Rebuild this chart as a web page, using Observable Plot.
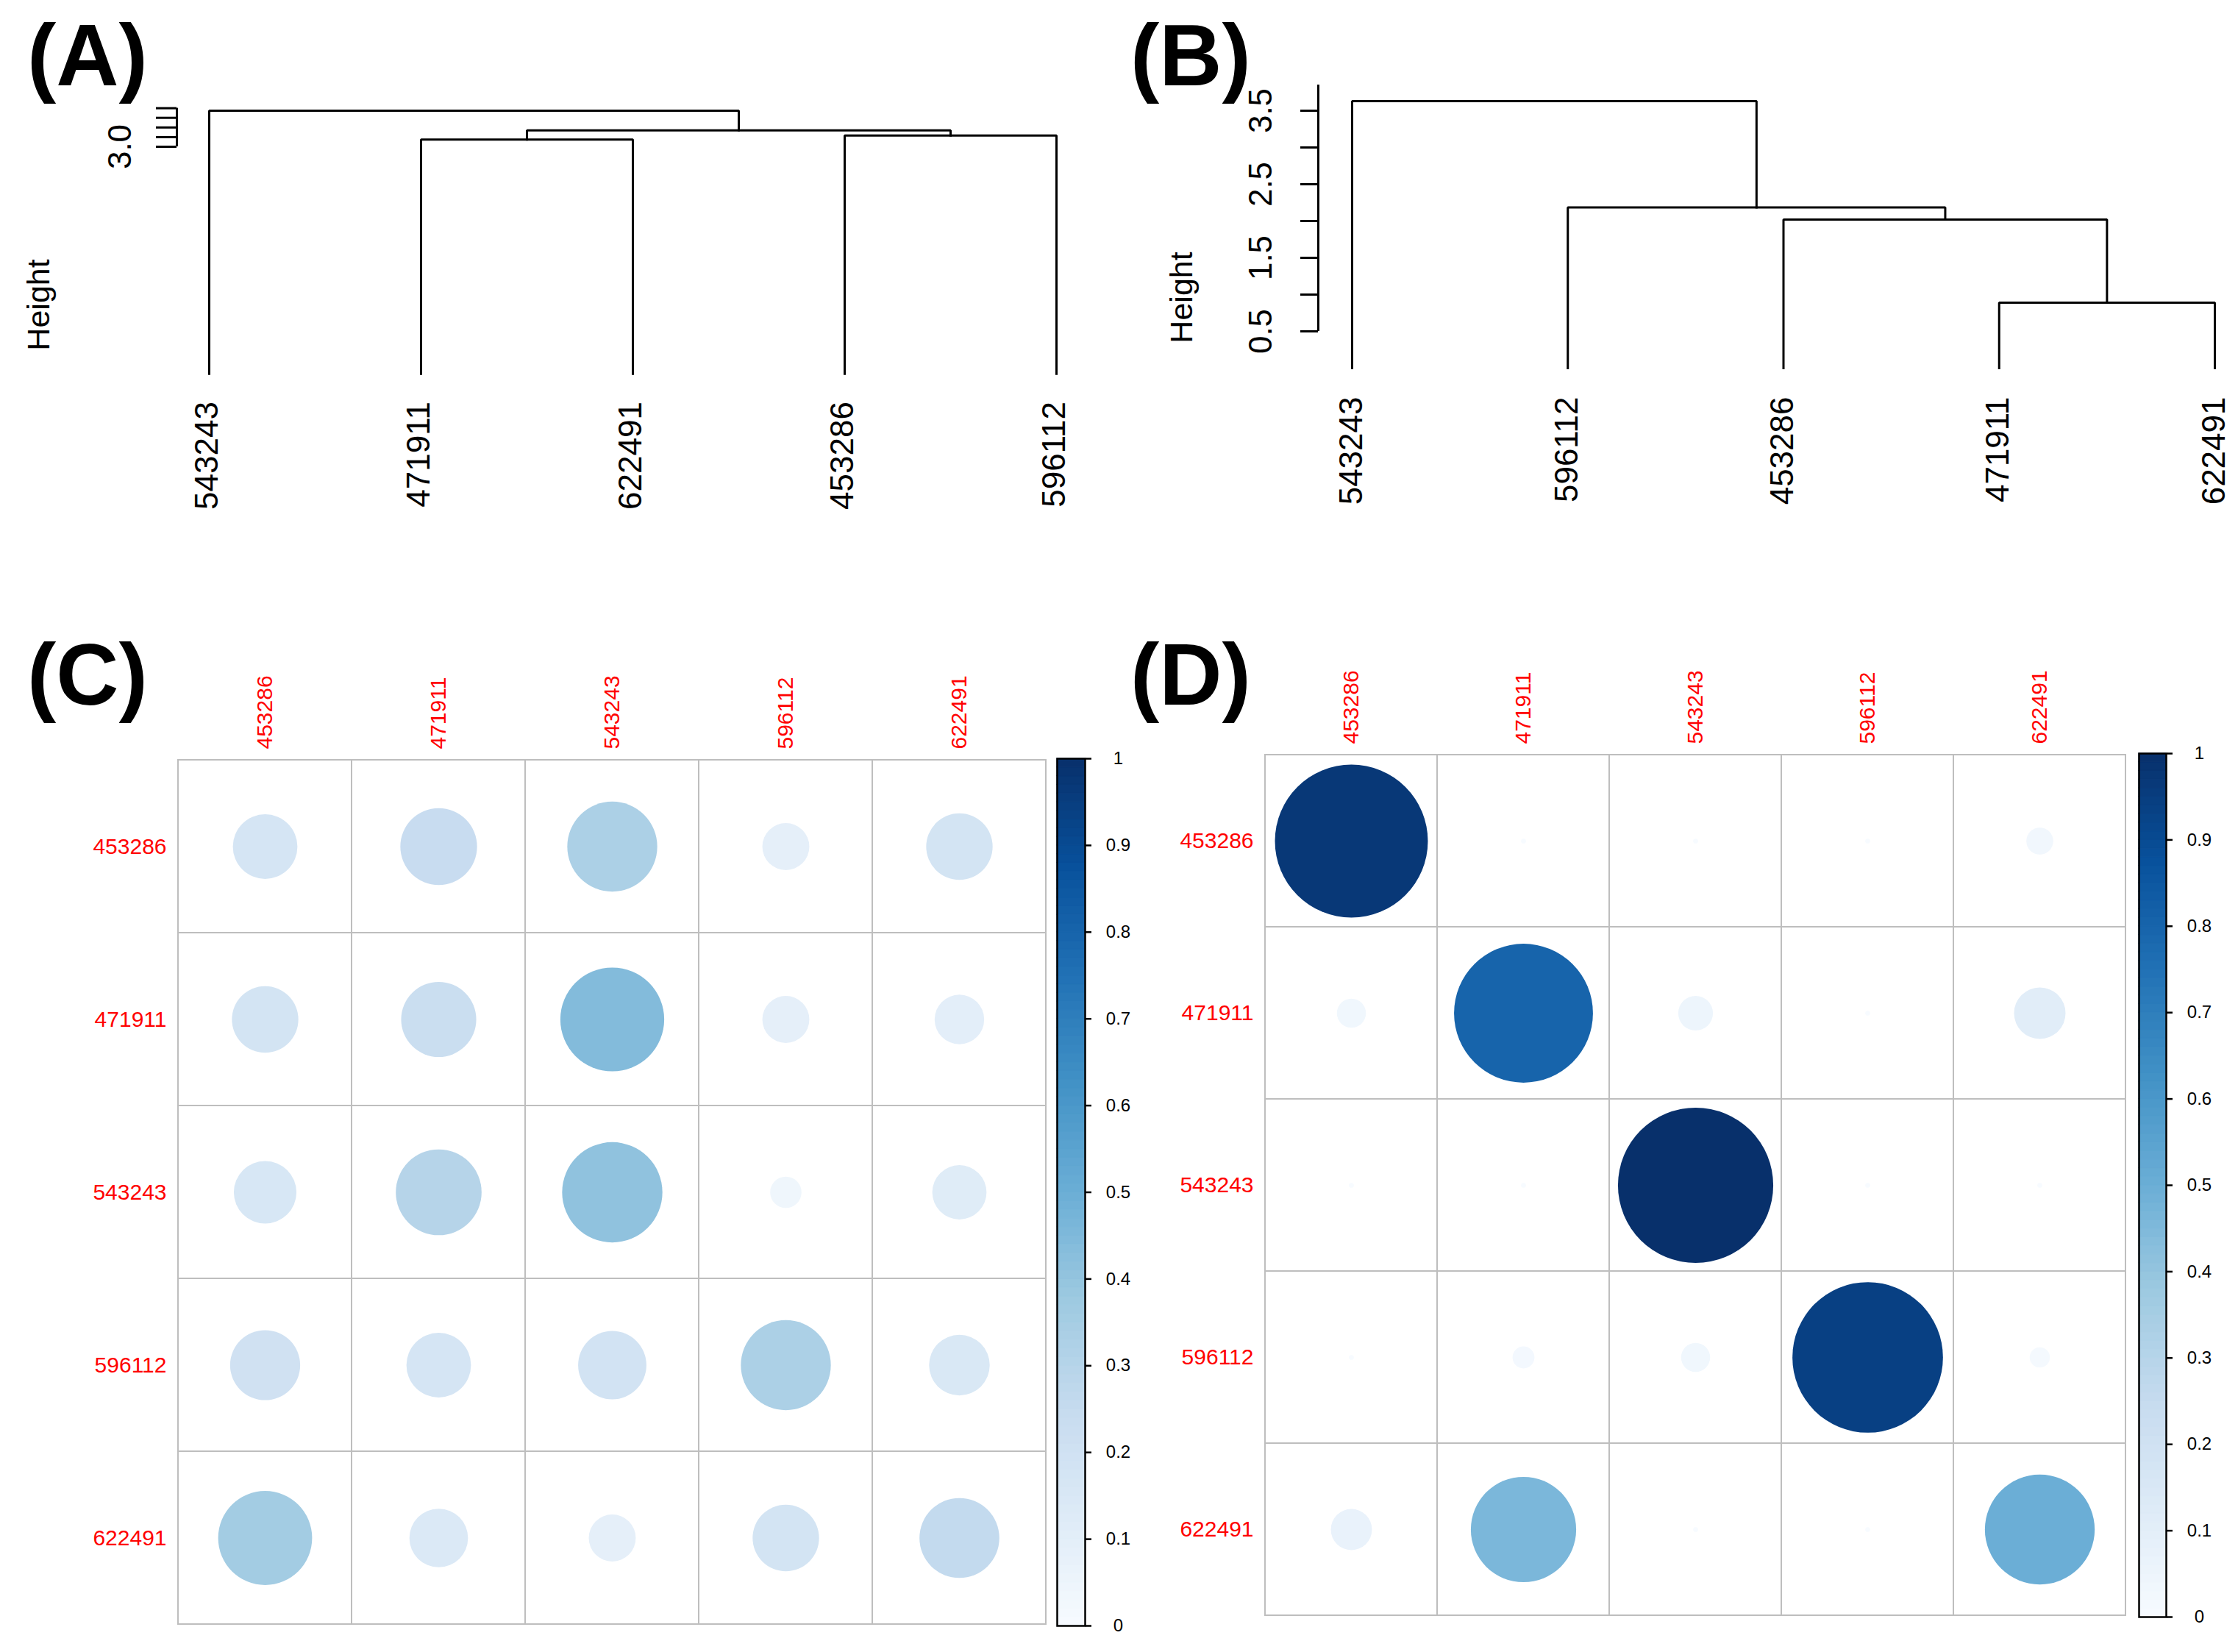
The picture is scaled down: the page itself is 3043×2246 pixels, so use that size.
<!DOCTYPE html>
<html><head><meta charset="utf-8">
<script src="https://cdn.jsdelivr.net/npm/d3@7"></script>
<script src="https://cdn.jsdelivr.net/npm/@observablehq/plot@0.6"></script>
<style>
html,body{margin:0;padding:0;background:#fff;}
#root{position:relative;width:3043px;height:2246px;background:#fff;overflow:hidden;font-family:"Liberation Sans",Arial,Helvetica,sans-serif;}
.panel{position:absolute;}
.tag{position:absolute;font-weight:bold;font-size:118px;line-height:118px;color:#000;font-family:"Liberation Sans",Arial,sans-serif;}
</style></head><body><div id="root"></div>
<script>
// ---------- data ----------
const ids = ["453286","471911","543243","596112","622491"];

// (A) dendrogram
const leavesA = ["543243","471911","622491","453286","596112"];
const baseA = 0.644;
const mergesA = [
  ["471911","622491",3.075],
  ["453286","596112",3.117],
  ["m0","m1",3.170],
  ["543243","m2",3.374]
];
const ticksA = [3.0,3.1,3.2,3.3,3.4];
const tickLabelsA = [3.0];

// (B) dendrogram
const leavesB = ["543243","596112","453286","471911","622491"];
const baseB = 0;
const mergesB = [
  ["471911","622491",0.89],
  ["453286","m0",2.02],
  ["596112","m1",2.185],
  ["543243","m2",3.63]
];
const ticksB = [0.5,1,1.5,2,2.5,3,3.5];
const tickLabelsB = [0.5,1.5,2.5,3.5];
const axisTopB = 3.85;

// (C) matrix (rows x cols in ids order)
const valuesC = [
  [0.17,0.24,0.33,0.09,0.18],
  [0.18,0.23,0.44,0.09,0.10],
  [0.16,0.30,0.41,0.04,0.12],
  [0.20,0.17,0.19,0.33,0.15],
  [0.36,0.14,0.09,0.18,0.26]
];
// (D) matrix
const valuesD = [
  [0.97,0.001,0.001,0.001,0.03],
  [0.035,0.80,0.05,0.001,0.11],
  [0.001,0.001,1.00,0.001,0.001],
  [0.001,0.02,0.035,0.94,0.017],
  [0.07,0.46,0.001,0.001,0.50]
];
const legendTicks = [0,0.1,0.2,0.3,0.4,0.5,0.6,0.7,0.8,0.9,1];
const blues = ["#F7FBFF","#DEEBF7","#C6DBEF","#9ECAE1","#6BAED6","#4292C6","#2171B5","#08519C","#08306B"];

// ---------- helpers ----------
const FONT = "Liberation Sans, Arial, Helvetica, sans-serif";
const root = document.getElementById("root");
function place(node, left, top) {
  node.classList.add("panel");
  node.style.left = left + "px";
  node.style.top = top + "px";
  root.appendChild(node);
}
function tag(txt, left, top) {
  const d = document.createElement("div");
  d.className = "tag";
  d.textContent = txt;
  d.style.left = left + "px";
  d.style.top = top + "px";
  root.appendChild(d);
}
function dendroPoints(leaves, merges, base) {
  const nodes = {};
  leaves.forEach((n, i) => nodes[n] = {x: i, h: base});
  const pts = [];
  merges.forEach(([a, b, h], k) => {
    const A = nodes[a], B = nodes[b];
    pts.push({k, x: A.x, y: A.h}, {k, x: A.x, y: h}, {k, x: B.x, y: h}, {k, x: B.x, y: B.h});
    nodes["m" + k] = {x: (A.x + B.x) / 2, h};
  });
  return pts;
}
const colorScale = {type: "linear", domain: [0, 1], interpolate: d3.piecewise(d3.interpolateRgb, blues)};

function dendro({leaves, merges, base, ticks, tickLabels, spineTop, width, height, mL, mR, mT, mB, axisDx, tickSize, labelDx, heightDx, heightDy, leafDy, leafDx}) {
  return Plot.plot({
    width, height, marginLeft: mL, marginRight: mR, marginTop: mT, marginBottom: mB,
    x: {domain: [0, leaves.length - 1], axis: null},
    y: {domain: [0, 4], axis: null},
    style: {fontFamily: FONT, background: "transparent", overflow: "visible"},
    marks: [
      Plot.line(dendroPoints(leaves, merges, base), {x: "x", y: "y", z: "k", stroke: "black", strokeWidth: 3, strokeLinejoin: "miter", strokeLinecap: "square"}),
      Plot.ruleX([0], {y1: ticks[0], y2: spineTop, dx: axisDx, stroke: "black", strokeWidth: 3}),
      Plot.axisY(ticks, {anchor: "left", tickSize, dx: axisDx, tickFormat: () => "", label: null, stroke: "black", strokeWidth: 3}),
      Plot.text(tickLabels, {y: d => d, text: d => d.toFixed(1), frameAnchor: "left", textAnchor: "middle", lineAnchor: "middle", rotate: -90, dx: labelDx, fontSize: 44}),
      Plot.text(["Height"], {frameAnchor: "left", textAnchor: "middle", lineAnchor: "middle", rotate: -90, dx: heightDx, dy: heightDy, fontSize: 43}),
      Plot.text(leaves, {x: (d, i) => i, y: base, text: d => d, rotate: -90, textAnchor: "end", lineAnchor: "middle", dx: leafDx, dy: leafDy, fontSize: 44})
    ]
  });
}

function matrix(values, {width, height, mL, mR, mT, mB}) {
  const data = ids.flatMap((r, i) => ids.map((c, j) => ({r, c, v: values[i][j]})));
  const cell = (width - mL - mR) / ids.length;
  return Plot.plot({
    width, height, marginLeft: mL, marginRight: mR, marginTop: mT, marginBottom: mB,
    x: {type: "band", domain: ids, axis: null, padding: 0},
    y: {type: "band", domain: ids, axis: null, padding: 0},
    color: colorScale,
    r: {type: "sqrt", domain: [0, 1], range: [0, 0.45 * cell]},
    style: {fontFamily: FONT, background: "transparent", overflow: "visible"},
    marks: [
      Plot.cell(data, {x: "c", y: "r", fill: "white", stroke: "#bebebe", strokeWidth: 2}),
      Plot.dot(data, {x: "c", y: "r", r: "v", fill: "v", stroke: null}),
      Plot.text(ids, {x: d => d, frameAnchor: "top", rotate: -90, textAnchor: "start", lineAnchor: "middle", dy: -13, fill: "#ff0000", fontSize: 30}),
      Plot.text(ids, {y: d => d, frameAnchor: "left", textAnchor: "end", lineAnchor: "middle", dx: -14, fill: "#ff0000", fontSize: 30})
    ]
  });
}

function colorbar({width, height, mL, mR, mT, mB}) {
  const n = 100;
  const steps = d3.range(n).map(i => [i / n, (i + 1) / n]);
  return Plot.plot({
    width, height, marginLeft: mL, marginRight: mR, marginTop: mT, marginBottom: mB,
    x: {domain: [0, 1], axis: null},
    y: {domain: [0, 1], axis: null},
    color: colorScale,
    style: {fontFamily: FONT, background: "transparent", overflow: "visible"},
    marks: [
      Plot.rect(steps, {x1: 0, x2: 1, y1: d => d[0], y2: d => d[1], fill: d => (d[0] + d[1]) / 2, stroke: d => (d[0] + d[1]) / 2, strokeWidth: 1}),
      Plot.frame({stroke: "black", strokeWidth: 2.5}),
      Plot.axisY(legendTicks, {anchor: "right", tickSize: 8, tickPadding: 37, textAnchor: "middle", label: null, tickFormat: d => String(+d.toFixed(1)), fontSize: 24, stroke: "black", strokeWidth: 2.5})
    ]
  });
}

// ---------- panels ----------
place(dendro({leaves: leavesA, merges: mergesA, base: baseA, ticks: ticksA, tickLabels: tickLabelsA, spineTop: ticksA[ticksA.length - 1],
  width: 1520, height: 720, mL: 284, mR: 84, mT: 68, mB: 128, axisDx: -44, tickSize: 28, labelDx: -121, heightDx: -231, heightDy: 84, leafDy: 38, leafDx: -3}), 0, 0);

place(dendro({leaves: leavesB, merges: mergesB, base: baseB, ticks: ticksB, tickLabels: tickLabelsB, spineTop: axisTopB,
  width: 1523, height: 720, mL: 318, mR: 32, mT: 100, mB: 220, axisDx: -46, tickSize: 24, labelDx: -124, heightDx: -231, heightDy: 104, leafDy: 39, leafDx: -1}), 1520, 0);

place(matrix(valuesC, {width: 1430, height: 1396, mL: 240, mR: 7, mT: 181, mB: 36}), 0, 850);
place(colorbar({width: 140, height: 1396, mL: 10, mR: 92, mT: 181, mB: 36}), 1427, 850);

place(matrix(valuesD, {width: 1338, height: 1396, mL: 158, mR: 7, mT: 174, mB: 48}), 1560, 850);
place(colorbar({width: 145, height: 1396, mL: 10, mR: 98, mT: 174, mB: 48}), 2898, 850);

tag("(A)", 37, 16);
tag("(B)", 1537, 16);
tag("(C)", 37, 858);
tag("(D)", 1537, 858);
</script>
</body></html>
